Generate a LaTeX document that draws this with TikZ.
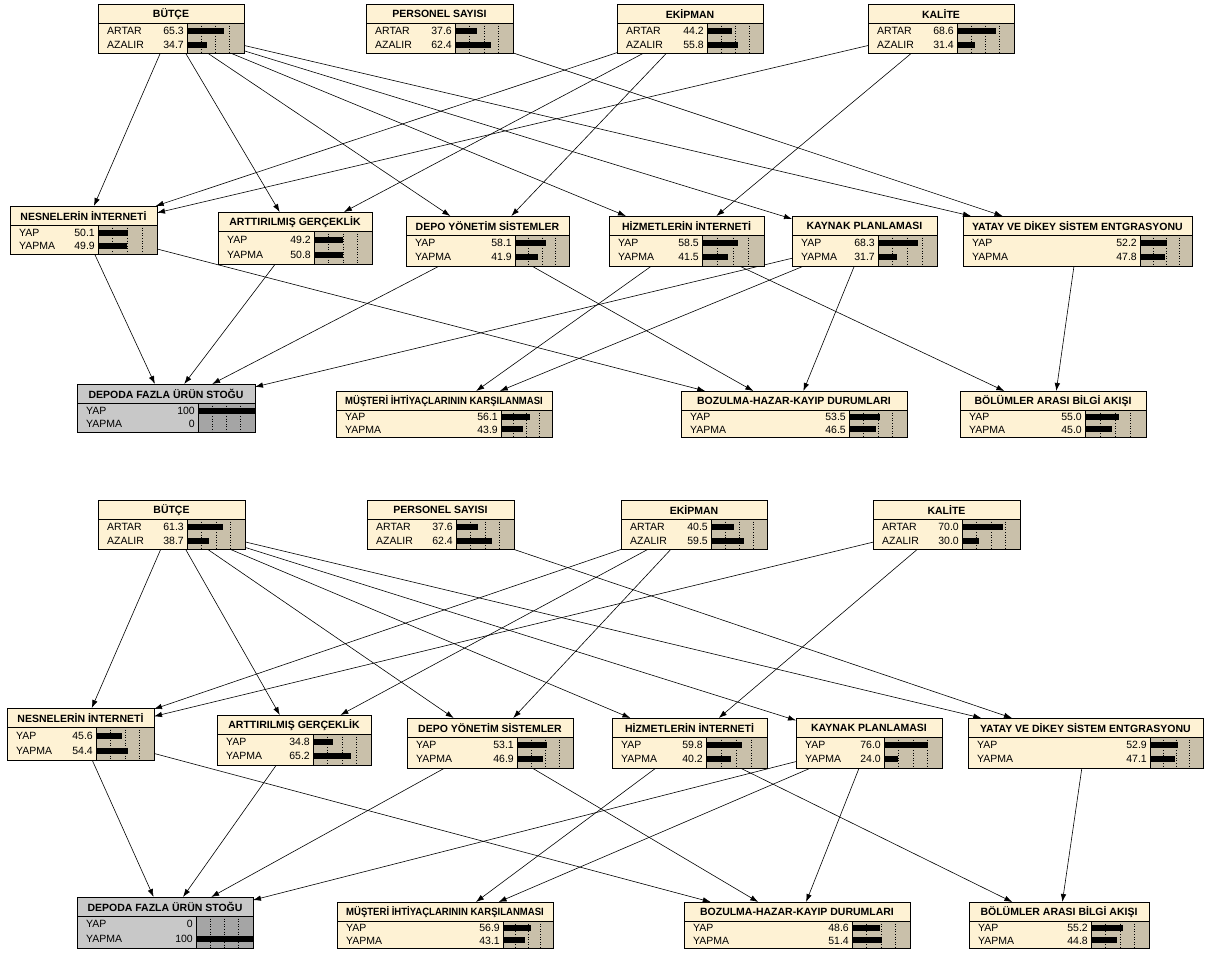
\documentclass[tikz,border=0pt]{standalone}
\usepackage{fontspec}
\usepackage{graphicx}
\setmainfont{Liberation Sans}
\usetikzlibrary{arrows.meta}
\definecolor{cream}{RGB}{254,242,212}
\definecolor{tanc}{RGB}{201,192,170}
\definecolor{gA}{RGB}{200,200,200}
\definecolor{gB}{RGB}{165,165,165}
\pgfdeclarelayer{bg}
\pgfsetlayers{bg,main}
\tikzset{
 arr/.style={-{Latex[length=8pt,width=5.5pt]}, line width=0.6pt, black},
 box/.style={rectangle, inner sep=0pt, outer sep=0pt},
 ttl/.style={font=\fontsize{10.5}{12}\selectfont\bfseries, inner sep=0pt},
 lab/.style={font=\fontsize{10.5}{12}\selectfont, inner sep=0pt},
 gridl/.style={dotted, line width=0.6pt},
}
\def\bodyc{cream}\def\barc{tanc}
\def\la{ARTAR}\def\lb{AZALIR}
% #1 name #2 x1 #3 y1 #4 x2 #5 y2 #6 bar start #7 title #8 v1 #9 v2
\newcommand\bn[9]{%
 \pgfmathsetmacro\tb{#3+19}%
 \pgfmathsetmacro\bh{#5-\tb}%
 \pgfmathsetmacro\ra{\tb+0.26*\bh}%
 \pgfmathsetmacro\rb{\tb+0.72*\bh}%
 \pgfmathsetmacro\bw{#4-#6}%
 \pgfmathsetmacro\xm{(#2+#4)/2}%
 \pgfmathsetmacro\ym{(#3+#5)/2}%
 \node[box, fill=\bodyc, minimum width={#4-#2}, minimum height={#5-#3}] (#1) at (\xm,\ym) {};
 \fill[\barc] (#6,\tb) rectangle (#4,#5);
 \foreach \f in {0.25,0.5,0.75} \draw[gridl] ({#6+\f*\bw},\tb) -- ({#6+\f*\bw},#5);
 \fill[black] (#6,\ra-3) rectangle ({#6+#8*\bw/100},\ra+3);
 \fill[black] (#6,\rb-3) rectangle ({#6+#9*\bw/100},\rb+3);
 \draw[line width=0.8pt] (#2,\tb) -- (#4,\tb);
 \draw[line width=0.8pt] (#6,\tb) -- (#6,#5);
 \draw[line width=0.9pt] (#1.north west) rectangle (#1.south east);
 \node[ttl] at (\xm,{#3+9.8}) {#7};
 \node[lab, anchor=west] at (#2+9,\ra) {\la};
 \node[lab, anchor=west] at (#2+9,\rb) {\lb};
 \node[lab, anchor=east] at (#6-3,\ra) {#8};
 \node[lab, anchor=east] at (#6-3,\rb) {#9};
}
\newcommand\edgesof[1]{%
 \begin{pgfonlayer}{bg}
 \draw[arr] (#1BUT) -- (#1NES);
 \draw[arr] (#1BUT) -- (#1ART);
 \draw[arr] (#1BUT) -- (#1DEP);
 \draw[arr] (#1BUT) -- (#1HIZ);
 \draw[arr] (#1BUT) -- (#1KAY);
 \draw[arr] (#1BUT) -- (#1YAT);
 \draw[arr] (#1PER) -- (#1YAT);
 \draw[arr] (#1EKI) -- (#1NES);
 \draw[arr] (#1EKI) -- (#1ART);
 \draw[arr] (#1EKI) -- (#1DEP);
 \draw[arr] (#1KAL) -- (#1NES);
 \draw[arr] (#1KAL) -- (#1HIZ);
 \draw[arr] (#1NES) -- (#1DPD);
 \draw[arr] (#1NES) -- (#1BOZ);
 \draw[arr] (#1ART) -- (#1DPD);
 \draw[arr] (#1DEP) -- (#1DPD);
 \draw[arr] (#1DEP) -- (#1BOZ);
 \draw[arr] (#1HIZ) -- (#1MUS);
 \draw[arr] (#1HIZ) -- (#1BOL);
 \draw[arr] (#1KAY) -- (#1DPD);
 \draw[arr] (#1KAY) -- (#1MUS);
 \draw[arr] (#1KAY) -- (#1BOZ);
 \draw[arr] (#1YAT) -- (#1BOL);
 \end{pgfonlayer}
}
\def\mustitle{\scalebox{0.91}[1]{MÜŞTERİ İHTİYAÇLARININ KARŞILANMASI}}
\begin{document}
\begin{tikzpicture}[x=1pt,y=-1pt]
\begin{pgfonlayer}{bg}
\fill[white] (0,0) rectangle (1207,955);
\end{pgfonlayer}
\useasboundingbox (0,0) rectangle (1207,955);
% ---------- top network ----------
\def\la{ARTAR}\def\lb{AZALIR}
\bn{tBUT}{98}{4}{244}{53}{187}{BÜTÇE}{65.3}{34.7}
\bn{tPER}{366}{4}{513}{53}{455}{PERSONEL SAYISI}{37.6}{62.4}
\bn{tEKI}{617}{4}{763}{53}{707}{EKİPMAN}{44.2}{55.8}
\bn{tKAL}{868}{4}{1014}{53}{957}{KALİTE}{68.6}{31.4}
\def\la{YAP}\def\lb{YAPMA}
\bn{tNES}{10}{206}{157}{254}{98}{NESNELERİN İNTERNETİ}{50.1}{49.9}
\bn{tART}{218}{212}{372}{264}{314}{ARTTIRILMIŞ GERÇEKLİK}{49.2}{50.8}
\bn{tDEP}{406}{216}{569}{266}{515}{DEPO YÖNETİM SİSTEMLER}{58.1}{41.9}
\bn{tHIZ}{609}{216}{764}{266}{702}{HİZMETLERİN İNTERNETİ}{58.5}{41.5}
\bn{tKAY}{792}{216}{937}{266}{878}{KAYNAK PLANLAMASI}{68.3}{31.7}
\bn{tYAT}{963}{216}{1192}{266}{1140}{YATAY VE DİKEY SİSTEM ENTGRASYONU}{52.2}{47.8}
\def\bodyc{gA}\def\barc{gB}
\bn{tDPD}{77}{384}{255}{432}{198}{DEPODA FAZLA ÜRÜN STOĞU}{100}{0}
\def\bodyc{cream}\def\barc{tanc}
\bn{tMUS}{336}{391}{552}{437}{501}{\mustitle}{56.1}{43.9}
\bn{tBOZ}{681}{391}{907}{437}{849}{BOZULMA-HAZAR-KAYIP DURUMLARI}{53.5}{46.5}
\bn{tBOL}{960}{391}{1146}{437}{1085}{BÖLÜMLER ARASI BİLGİ AKIŞI}{55.0}{45.0}
\edgesof{t}
% ---------- bottom network ----------
\def\la{ARTAR}\def\lb{AZALIR}
\bn{bBUT}{98}{500}{245}{549}{187}{BÜTÇE}{61.3}{38.7}
\bn{bPER}{367}{500}{514}{549}{456}{PERSONEL SAYISI}{37.6}{62.4}
\bn{bEKI}{621}{500}{767}{549}{711}{EKİPMAN}{40.5}{59.5}
\bn{bKAL}{873}{500}{1020}{549}{962}{KALİTE}{70.0}{30.0}
\def\la{YAP}\def\lb{YAPMA}
\bn{bNES}{7}{708}{154}{760}{96}{NESNELERİN İNTERNETİ}{45.6}{54.4}
\bn{bART}{217}{715}{371}{765}{313}{ARTTIRILMIŞ GERÇEKLİK}{34.8}{65.2}
\bn{bDEP}{407}{718}{573}{768}{517}{DEPO YÖNETİM SİSTEMLER}{53.1}{46.9}
\bn{bHIZ}{612}{718}{767}{768}{706}{HİZMETLERİN İNTERNETİ}{59.8}{40.2}
\bn{bKAY}{796}{718}{942}{768}{884}{KAYNAK PLANLAMASI}{76.0}{24.0}
\bn{bYAT}{968}{718}{1203}{768}{1150}{YATAY VE DİKEY SİSTEM ENTGRASYONU}{52.9}{47.1}
\def\bodyc{gA}\def\barc{gB}
\bn{bDPD}{77}{897}{253}{948}{196}{DEPODA FAZLA ÜRÜN STOĞU}{0}{100}
\def\bodyc{cream}\def\barc{tanc}
\bn{bMUS}{337}{902}{553}{948}{503}{\mustitle}{56.9}{43.1}
\bn{bBOZ}{684}{902}{910}{948}{852}{BOZULMA-HAZAR-KAYIP DURUMLARI}{48.6}{51.4}
\bn{bBOL}{969}{902}{1149}{948}{1091}{BÖLÜMLER ARASI BİLGİ AKIŞI}{55.2}{44.8}
\edgesof{b}
\end{tikzpicture}
\end{document}
